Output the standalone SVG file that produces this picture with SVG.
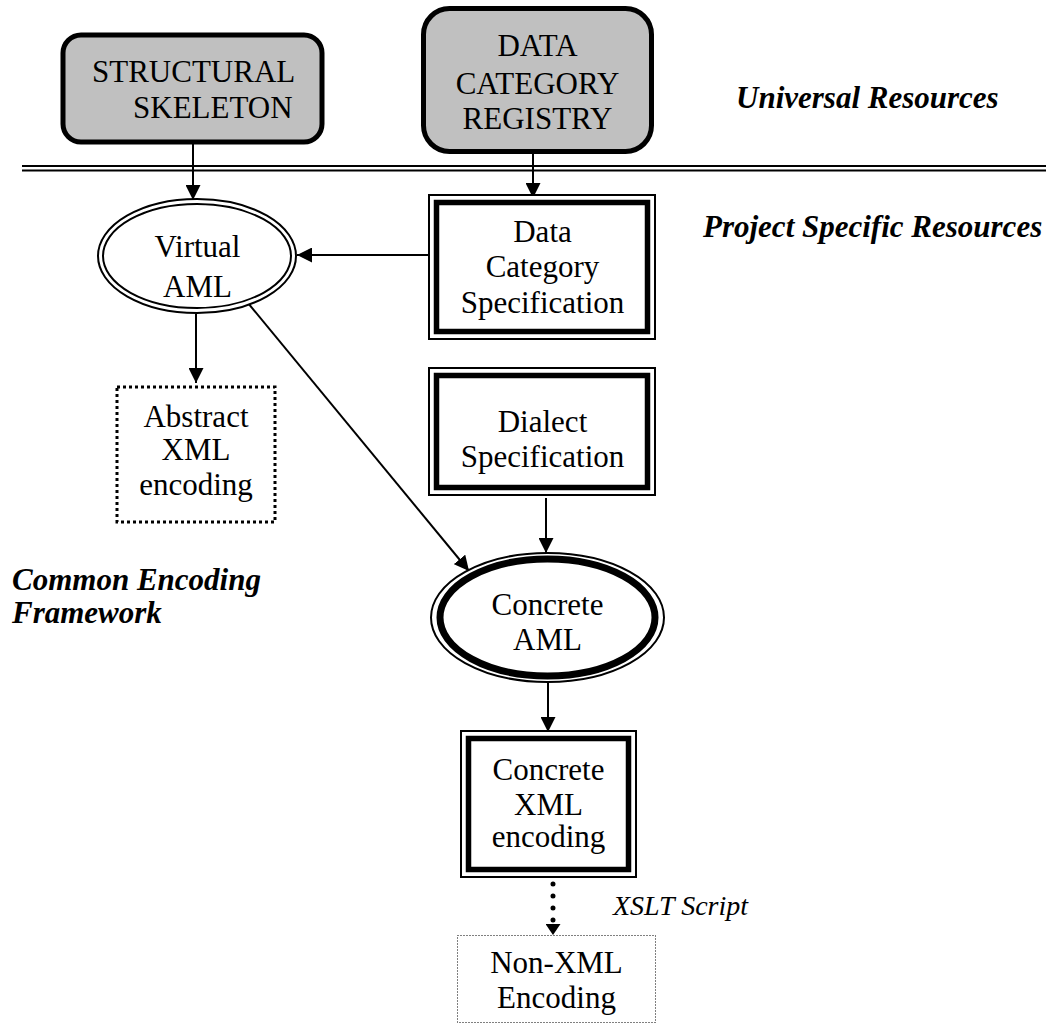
<svg xmlns="http://www.w3.org/2000/svg" width="1046" height="1025" viewBox="0 0 1046 1025">
<style>
text{font-family:"Liberation Serif","Times New Roman",serif;font-size:31px;fill:#000}
.c{text-anchor:middle}
.lab{font-weight:bold;font-style:italic}
.it{font-style:italic;font-size:28px}
.univ{fill:#c0c0c0;stroke:#000;stroke-width:5}
.thin{fill:#fff;stroke:#000;stroke-width:2}
.thick{fill:none;stroke:#000;stroke-width:5.5}
.conn{fill:none;stroke:#000;stroke-width:2}
</style>
<defs>
<marker id="ah" markerUnits="userSpaceOnUse" markerWidth="15" markerHeight="15" refX="15" refY="7.5" orient="auto">
<path d="M0,0 L15,7.5 L0,15 z" fill="#000"/>
</marker>
<marker id="ahs" markerUnits="userSpaceOnUse" markerWidth="11" markerHeight="15" refX="11" refY="7.5" orient="auto">
<path d="M0,0 L11,7.5 L0,15 z" fill="#000"/>
</marker>
</defs>

<g id="divider">
<line x1="22" y1="166" x2="1046" y2="166" stroke="#000" stroke-width="2"/>
<line x1="22" y1="170.5" x2="1046" y2="170.5" stroke="#000" stroke-width="2"/>
</g>

<g id="label-universal"><text class="lab" x="736" y="108">Universal Resources</text></g>
<g id="label-project"><text class="lab" x="703" y="237">Project Specific Resources</text></g>
<g id="label-common"><text class="lab" x="12" y="590">Common Encoding</text><text class="lab" x="12" y="623">Framework</text></g>

<g id="connectors">
<line class="conn" x1="193" y1="142" x2="193" y2="200" marker-end="url(#ah)"/>
<line class="conn" x1="533" y1="152" x2="533" y2="198" marker-end="url(#ah)"/>
<line class="conn" x1="443" y1="255" x2="297" y2="255" marker-end="url(#ah)"/>
<line class="conn" x1="196" y1="314" x2="196" y2="383" marker-end="url(#ah)"/>
<line class="conn" x1="248" y1="303" x2="469" y2="571" marker-end="url(#ah)"/>
<line class="conn" x1="546" y1="498" x2="546" y2="553" marker-end="url(#ah)"/>
<line class="conn" x1="548" y1="683" x2="548" y2="732" marker-end="url(#ah)"/>
<line x1="553" y1="884" x2="553" y2="924" stroke="#000" stroke-width="5" stroke-linecap="round" stroke-dasharray="0 12"/>
<line x1="553" y1="920" x2="553" y2="935" stroke="#000" stroke-width="0.1" marker-end="url(#ahs)"/>
<text class="it" x="613" y="915">XSLT Script</text>
</g>

<g id="structural-skeleton">
<rect class="univ" x="63" y="35" width="259" height="107" rx="18"/>
<text x="92" y="82">STRUCTURAL</text>
<text x="133" y="118">SKELETON</text>
</g>

<g id="data-category-registry">
<rect class="univ" x="423.5" y="8.5" width="228" height="143" rx="26"/>
<text class="c" x="537.5" y="56">DATA</text>
<text class="c" x="537.5" y="94">CATEGORY</text>
<text class="c" x="537.5" y="129">REGISTRY</text>
</g>

<g id="virtual-aml">
<ellipse cx="197" cy="256" rx="99" ry="57" fill="#fff" stroke="#000" stroke-width="2"/>
<ellipse cx="197" cy="256" rx="94" ry="52" fill="none" stroke="#000" stroke-width="2"/>
<text class="c" x="197.5" y="257">Virtual</text>
<text class="c" x="197.5" y="297">AML</text>
</g>

<g id="data-category-specification">
<rect class="thin" x="429" y="195" width="226" height="144"/>
<rect class="thick" x="436.5" y="202.5" width="211" height="129"/>
<text class="c" x="542.5" y="242">Data</text>
<text class="c" x="542.5" y="277">Category</text>
<text class="c" x="542.5" y="313">Specification</text>
</g>

<g id="abstract-xml">
<rect x="117" y="387" width="158" height="135" fill="#fff" stroke="#000" stroke-width="3" stroke-dasharray="3 3"/>
<text class="c" x="196" y="427">Abstract</text>
<text class="c" x="196" y="460">XML</text>
<text class="c" x="196" y="495">encoding</text>
</g>

<g id="dialect-specification">
<rect class="thin" x="429" y="368" width="226" height="127"/>
<rect class="thick" x="436.5" y="375.5" width="211" height="112"/>
<text class="c" x="542.5" y="432">Dialect</text>
<text class="c" x="542.5" y="467">Specification</text>
</g>

<g id="concrete-aml">
<ellipse cx="547.5" cy="617.5" rx="116.5" ry="64.5" fill="#fff" stroke="#000" stroke-width="2"/>
<ellipse cx="547.5" cy="617.5" rx="107.5" ry="58.5" fill="none" stroke="#000" stroke-width="7"/>
<text class="c" x="547.5" y="615">Concrete</text>
<text class="c" x="547.5" y="650">AML</text>
</g>

<g id="concrete-xml">
<rect class="thin" x="461" y="731" width="175" height="146"/>
<rect class="thick" x="468.5" y="738.5" width="160" height="131"/>
<text class="c" x="548.5" y="780">Concrete</text>
<text class="c" x="548.5" y="815">XML</text>
<text class="c" x="548.5" y="847">encoding</text>
</g>

<g id="non-xml">
<rect x="457.5" y="935.5" width="198" height="87" fill="#fff" stroke="#000" stroke-width="1" stroke-dasharray="1 2"/>
<text class="c" x="556.5" y="973">Non-XML</text>
<text class="c" x="556.5" y="1008">Encoding</text>
</g>
</svg>
